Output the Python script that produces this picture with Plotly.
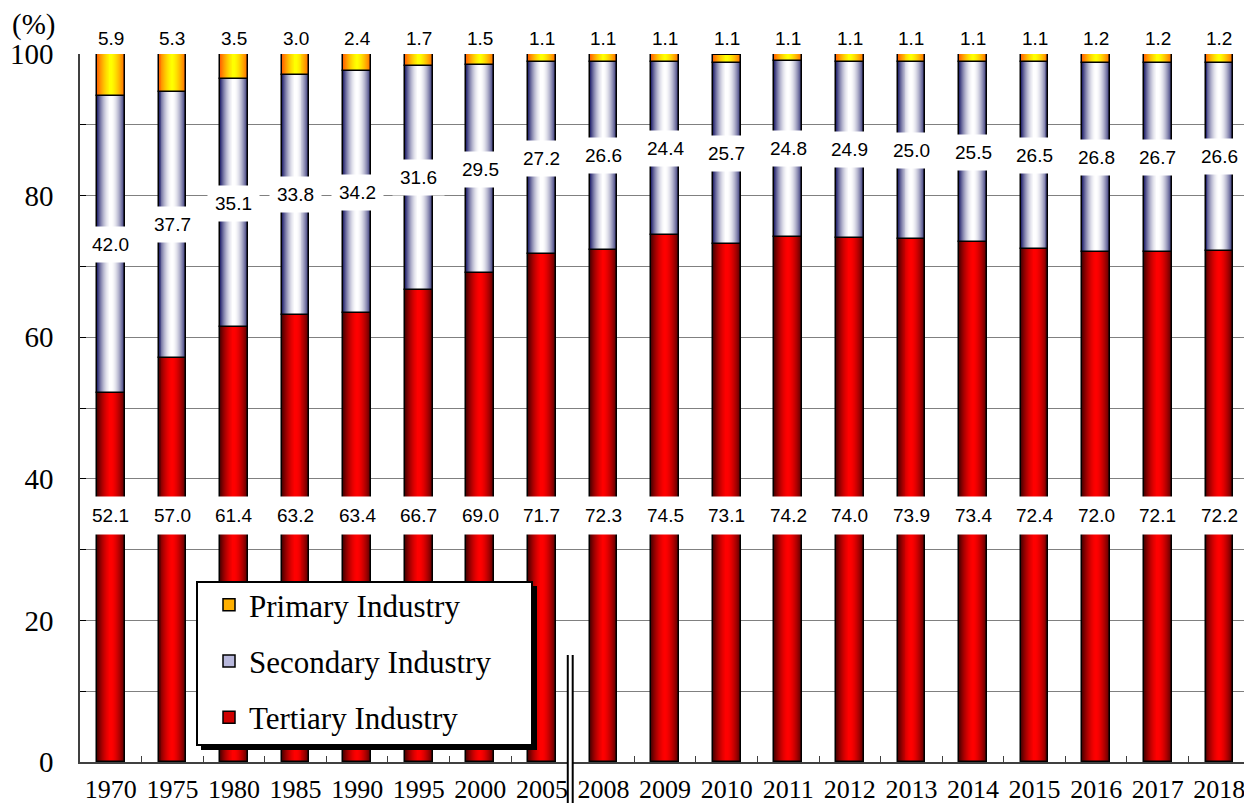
import plotly.graph_objects as go

years = ["1970", "1975", "1980", "1985", "1990", "1995", "2000", "2005", "2008", "2009",
         "2010", "2011", "2012", "2013", "2014", "2015", "2016", "2017", "2018"]
primary = [5.9, 5.3, 3.5, 3.0, 2.4, 1.7, 1.5, 1.1, 1.1, 1.1, 1.1, 1.1, 1.1, 1.1, 1.1, 1.1, 1.2, 1.2, 1.2]
secondary = [42.0, 37.7, 35.1, 33.8, 34.2, 31.6, 29.5, 27.2, 26.6, 24.4, 25.7, 24.8, 24.9, 25.0, 25.5,
             26.5, 26.8, 26.7, 26.6]
tertiary = [52.1, 57.0, 61.4, 63.2, 63.4, 66.7, 69.0, 71.7, 72.3, 74.5, 73.1, 74.2, 74.0, 73.9, 73.4,
            72.4, 72.0, 72.1, 72.2]

# figure geometry (pixels)
W_FIG, H_FIG = 1244, 803
ML, MR, MT, MB = 80, 0, 54, 41
PW, PH = W_FIG - ML - MR, H_FIG - MT - MB


def px(x):
    return (x - ML) / PW


def py(y):
    return (H_FIG - MB - y) / PH


def hex2rgb(h):
    h = h.lstrip("#")
    return tuple(int(h[i:i + 2], 16) for i in (0, 2, 4))


def mix(edge, center, r, p):
    e, c = hex2rgb(edge), hex2rgb(center)
    f = r ** p
    return "rgb(%d,%d,%d)" % tuple(round(c[i] + (e[i] - c[i]) * f) for i in range(3))


BAR_W = 0.45
N_LAYERS = 14

base_ter = [0.0] * len(years)
base_sec = tertiary[:]
base_pri = [t + s for t, s in zip(tertiary, secondary)]

segments = [
    ("Tertiary Industry", tertiary, base_ter, "#4a0000", "#ff0000", 1.6),
    ("Secondary Industry", secondary, base_sec, "#1e1e6a", "#ffffff", 1.8),
    ("Primary Industry", primary, base_pri, "#ff6000", "#ffff00", 1.4),
]

fig = go.Figure()
for name, vals, base, edge, center, p in segments:
    for k in range(N_LAYERS):
        r = 1 - k / N_LAYERS
        rc = max(r - 0.5 / N_LAYERS, 0)
        fig.add_trace(go.Bar(
            x=years, y=vals, base=base, width=BAR_W * r,
            marker=dict(color=mix(edge, center, rc, p), line=dict(width=0)),
            showlegend=False, hoverinfo="skip"))
    fig.add_trace(go.Bar(
        x=years, y=vals, base=base, width=BAR_W,
        marker=dict(color="rgba(0,0,0,0)", line=dict(color="black", width=1.5)),
        showlegend=False, hoverinfo="skip"))

# legend entries
legend_cols = {"Primary Industry": "#ffb000", "Secondary Industry": "#b8b8dc", "Tertiary Industry": "#d00000"}
for i, nm in enumerate(["Primary Industry", "Secondary Industry", "Tertiary Industry"]):
    fig.add_trace(go.Bar(
        x=[None], y=[None], name=nm, legendgroup=str(i),
        marker=dict(color=legend_cols[nm], line=dict(color="black", width=1.5))))

label_font = dict(family="Liberation Sans", size=19, color="black")
annotations = []
for i, yr in enumerate(years):
    annotations.append(dict(x=i, y=34.8, xref="x", yref="y", text="%.1f" % tertiary[i],
                            showarrow=False, font=label_font, bgcolor="white", borderpad=8))
    annotations.append(dict(x=i, y=base_sec[i] + secondary[i] / 2, xref="x", yref="y",
                            text="%.1f" % secondary[i], showarrow=False, font=label_font,
                            bgcolor="white", borderpad=7))
    annotations.append(dict(x=i, y=100, xref="x", yref="y", text="%.1f" % primary[i],
                            showarrow=False, font=label_font, yanchor="bottom", yshift=3))
annotations.append(dict(x=px(10), y=py(6), xref="paper", yref="paper", text="(%)",
                        xanchor="left", yanchor="top",
                        showarrow=False, font=dict(family="Liberation Serif", size=29, color="black")))

shapes = [
    # legend shadow and frame
    dict(type="rect", xref="paper", yref="paper", x0=px(201), x1=px(537), y0=py(750), y1=py(586),
         fillcolor="black", line=dict(width=0), layer="above"),
    dict(type="rect", xref="paper", yref="paper", x0=px(197), x1=px(532), y0=py(745), y1=py(582),
         fillcolor="white", line=dict(color="black", width=2), layer="above"),
    # axis break marker
    dict(type="rect", xref="x", yref="paper", x0=7.42, x1=7.50, y0=py(803), y1=py(655),
         fillcolor="white", line=dict(width=0), layer="above"),
    dict(type="line", xref="x", yref="paper", x0=7.42, x1=7.42, y0=py(803), y1=py(655),
         line=dict(color="black", width=2), layer="above"),
    dict(type="line", xref="x", yref="paper", x0=7.50, x1=7.50, y0=py(803), y1=py(655),
         line=dict(color="black", width=2), layer="above"),
]

fig.update_layout(
    width=W_FIG, height=H_FIG,
    margin=dict(l=ML, r=MR, t=MT, b=MB, pad=0, autoexpand=False),
    paper_bgcolor="white", plot_bgcolor="white",
    barmode="overlay", bargap=0,
    showlegend=True,
    legend=dict(x=px(209), y=py(578), xanchor="left", yanchor="top",
                bgcolor="rgba(0,0,0,0)", borderwidth=0,
                font=dict(family="Liberation Serif", size=31, color="black"),
                traceorder="grouped", tracegroupgap=13),
    xaxis=dict(type="category", range=[-0.5, 18.4], showline=True, linecolor="#404040",
               linewidth=1.5, ticks="inside", ticklen=6, tickcolor="#404040",
               tickson="boundaries", showgrid=False, automargin=False, tickangle=0,
               tickfont=dict(family="Liberation Serif", size=26, color="black"),
               ticklabelstandoff=3),
    yaxis=dict(range=[0, 100], dtick=20, showline=True, linecolor="#404040", linewidth=1.5,
               ticks="inside", ticklen=6, tickcolor="black", automargin=False,
               showgrid=True, gridcolor="#808080", gridwidth=1,
               minor=dict(dtick=10, ticks="inside", ticklen=6, tickcolor="black",
                          showgrid=True, gridcolor="#808080", gridwidth=1),
               tickfont=dict(family="Liberation Serif", size=29, color="black"),
               ticklabelstandoff=19, zeroline=False),
    annotations=annotations,
    shapes=shapes,
)

fig.write_html("out.html", config={"displayModeBar": False},
               post_script="document.body.style.margin='0';document.body.style.overflow='hidden';")
